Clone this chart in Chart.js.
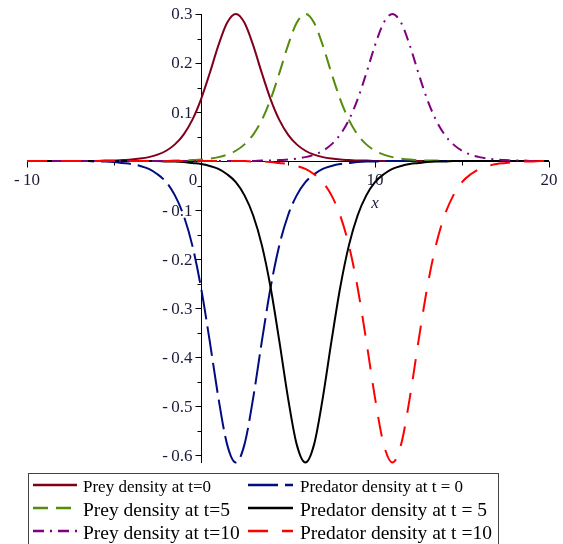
<!DOCTYPE html>
<html>
<head>
<meta charset="utf-8">
<script src="https://cdn.jsdelivr.net/npm/chart.js@4.4.1/dist/chart.umd.min.js"></script>
<style>
  html, body { margin: 0; padding: 0; background: #fff; }
  canvas { display: block; }
</style>
</head>
<body>
<canvas id="densityChart" width="563" height="544"></canvas>
<script>
const xs = [-10,-9.5,-9,-8.5,-8,-7.5,-7,-6.5,-6,-5.5,-5,-4.5,-4,-3.5,-3,-2.5,-2,-1.5,-1,-0.5,
            0,0.5,1,1.5,2,2.5,3,3.5,4,4.5,5,5.5,6,6.5,7,7.5,8,8.5,9,9.5,
            10,10.5,11,11.5,12,12.5,13,13.5,14,14.5,15,15.5,16,16.5,17,17.5,18,18.5,19,19.5,20];

// prey densities (peaks near x = 2, 6, 11)
const preyT0 = [0,0,0,0,0,0,0,0,0,
  .001,.001,.002,.003,.005,.008,.013,.021,.034,.054,.084,.126,.179,.236,.282,.300,.282,.236,.179,.126,.084,.054,.034,.021,.013,.008,.005,.003,.002,.001,.001,
  0,0,0,0,0,0,0,0,0,0,0,0,0,0,0,0,0,0,0,0,0];
const preyT5 = [0,0,0,0,0,0,0,0,0,0,0,0,0,0,0,0,0,
  .001,.001,.002,.003,.005,.008,.013,.021,.034,.054,.084,.126,.179,.236,.282,.300,.282,.236,.179,.126,.084,.054,.034,.021,.013,.008,.005,.003,.002,.001,.001,
  0,0,0,0,0,0,0,0,0,0,0,0,0];
const preyT10 = [0,0,0,0,0,0,0,0,0,0,0,0,0,0,0,0,0,0,0,0,0,0,0,0,0,0,0,
  .001,.001,.002,.003,.005,.008,.013,.021,.034,.054,.084,.126,.179,.236,.282,.300,.282,.236,.179,.126,.084,.054,.034,.021,.013,.008,.005,.003,.002,.001,.001,
  0,0,0];

// predator densities (troughs near x = 2, 6, 11)
const predT0 = [0,0,0,0,0,0,0,0,
  -.001,-.001,-.002,-.004,-.006,-.010,-.016,-.027,-.043,-.070,-.111,-.172,-.258,-.367,-.483,-.578,-.615,
  -.578,-.483,-.367,-.258,-.172,-.111,-.070,-.043,-.027,-.016,-.010,-.006,-.004,-.002,-.001,-.001,
  0,0,0,0,0,0,0,0,0,0,0,0,0,0,0,0,0,0,0,0];
const predT5 = [0,0,0,0,0,0,0,0,0,0,0,0,0,0,0,0,
  -.001,-.001,-.002,-.004,-.006,-.010,-.016,-.027,-.043,-.070,-.111,-.172,-.258,-.367,-.483,-.578,-.615,
  -.578,-.483,-.367,-.258,-.172,-.111,-.070,-.043,-.027,-.016,-.010,-.006,-.004,-.002,-.001,-.001,
  0,0,0,0,0,0,0,0,0,0,0,0];
const predT10 = [0,0,0,0,0,0,0,0,0,0,0,0,0,0,0,0,0,0,0,0,0,0,0,0,0,0,
  -.001,-.001,-.002,-.004,-.006,-.010,-.016,-.027,-.043,-.070,-.111,-.172,-.258,-.367,-.483,-.578,-.615,
  -.578,-.483,-.367,-.258,-.172,-.111,-.070,-.043,-.027,-.016,-.010,-.006,-.004,-.002,-.001,-.001,
  0,0];

const seriesLabels = ['Prey density at t=0', 'Predator density at t = 0',
                      'Prey density at t=5', 'Predator density at t = 5',
                      'Prey density at t=10', 'Predator density at t =10'];

// axis ticks
const xMajorTicks = [-10, 0, 10, 20];
const xMinorTicks = [-5, 5, 15];
const yMajorTicks = [0.3, 0.2, 0.1, -0.1, -0.2, -0.3, -0.4, -0.5, -0.6];
const yMinorTicks = [0.25, 0.15, 0.05, -0.05, -0.15, -0.25, -0.35, -0.45, -0.55];

const SERIF = "'Liberation Serif', 'Times New Roman', serif";

function pts(ys) {
    return xs.map((x, i) => ({ x: x, y: ys[i] }));
}

const styles = [
    { color: '#80001c', dash: [] },
    { color: '#000c80', dash: [30, 7] },
    { color: '#548c0c', dash: [15, 8] },
    { color: '#000000', dash: [] },
    { color: '#800080', dash: [11, 6, 2, 6] },
    { color: '#ff0000', dash: [20, 14] }
];
const seriesData = [preyT0, predT0, preyT5, predT5, preyT10, predT10];

// maple writes negatives as a short dash with a small gap
function fmt(v) {
    return (v < 0 ? '-\u2009' : '') + Math.abs(v).toString();
}

// axes through the origin, Maple style
const mapleAxes = {
    id: 'mapleAxes',
    beforeDatasetsDraw(chart) {
        const { ctx, scales: { x, y } } = chart;
        const x0 = Math.round(x.getPixelForValue(0)) + 0.5;
        const y0 = Math.round(y.getPixelForValue(0)) + 0.5;
        ctx.save();
        ctx.strokeStyle = '#000';
        ctx.lineWidth = 1;
        ctx.beginPath();
        ctx.moveTo(x.left, y0); ctx.lineTo(x.right, y0);
        ctx.moveTo(x0, y.top); ctx.lineTo(x0, y.bottom);
        xMajorTicks.forEach(v => {
            const px = Math.round(x.getPixelForValue(v)) + 0.5;
            ctx.moveTo(px, y0); ctx.lineTo(px, y0 + 6);
        });
        xMinorTicks.forEach(v => {
            const px = Math.round(x.getPixelForValue(v)) + 0.5;
            ctx.moveTo(px, y0); ctx.lineTo(px, y0 + 4);
        });
        yMajorTicks.forEach(v => {
            const py = Math.round(y.getPixelForValue(v)) + 0.5;
            ctx.moveTo(x0, py); ctx.lineTo(x0 - 6, py);
        });
        yMinorTicks.forEach(v => {
            const py = Math.round(y.getPixelForValue(v)) + 0.5;
            ctx.moveTo(x0, py); ctx.lineTo(x0 - 4, py);
        });
        ctx.stroke();

        ctx.fillStyle = '#1c1c3a';
        ctx.font = '17px ' + SERIF;
        ctx.textBaseline = 'middle';
        ctx.textAlign = 'center';
        xMajorTicks.forEach(v => {
            let px = x.getPixelForValue(v);
            if (v === 0) px -= 8;
            ctx.fillText(fmt(v), px, y0 + 19);
        });
        ctx.textAlign = 'right';
        yMajorTicks.forEach(v => {
            ctx.fillText(fmt(v), x0 - 9, y.getPixelForValue(v) + 1);
        });
        ctx.textAlign = 'center';
        ctx.font = 'italic 17px ' + SERIF;
        ctx.fillText('x', x.getPixelForValue(10), y0 + 42);
        ctx.restore();
    },
    afterDraw(chart) {
        const ctx = chart.ctx;
        ctx.save();
        ctx.strokeStyle = '#444';
        ctx.lineWidth = 1;
        ctx.strokeRect(28.5, 473.5, 470, 100);
        const rows = [
            { line: 485, base: 492, size: 17 },
            { line: 508, base: 516, size: 19.5 },
            { line: 531, base: 539, size: 19.5 }
        ];
        const cols = [{ x1: 33, x2: 77, tx: 83 }, { x1: 248, x2: 293, tx: 300 }];
        seriesLabels.forEach((label, i) => {
            const r = rows[Math.floor(i / 2)];
            const c = cols[i % 2];
            const s = styles[i];
            ctx.strokeStyle = s.color;
            ctx.lineWidth = 2.5;
            ctx.setLineDash(s.dash);
            ctx.beginPath();
            ctx.moveTo(c.x1, r.line); ctx.lineTo(c.x2, r.line);
            ctx.stroke();
            ctx.setLineDash([]);
            ctx.fillStyle = '#000';
            ctx.font = r.size + 'px ' + SERIF;
            ctx.textAlign = 'left';
            ctx.textBaseline = 'alphabetic';
            ctx.fillText(label, c.tx, r.base);
        });
        ctx.restore();
    }
};

const datasets = seriesData.map((ys, i) => ({
    label: seriesLabels[i],
    data: pts(ys),
    borderColor: styles[i].color,
    borderDash: styles[i].dash,
    borderWidth: 2,
    pointRadius: 0,
    cubicInterpolationMode: 'monotone',
    fill: false,
    clip: false,
    order: 5 - i
}));

new Chart(document.getElementById('densityChart'), {
    type: 'line',
    data: { datasets: datasets },
    options: {
        responsive: false,
        animation: false,
        devicePixelRatio: 1,
        layout: { padding: { left: 27, right: 14, top: 14, bottom: 81 } },
        scales: {
            x: { type: 'linear', min: -10, max: 20, display: false },
            y: { type: 'linear', min: -0.616, max: 0.3, display: false }
        },
        plugins: { legend: { display: false }, tooltip: { enabled: false } }
    },
    plugins: [mapleAxes]
});
</script>
</body>
</html>
